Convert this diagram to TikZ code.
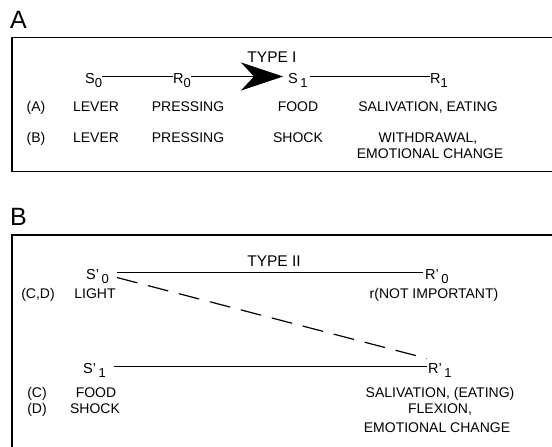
\documentclass[tikz,border=0pt]{standalone}
\usepackage{fontspec}
\setmainfont{Liberation Sans}
\usetikzlibrary{arrows.meta}
\newcommand{\sub}[1]{\raisebox{-4.5pt}{\fontsize{13}{13}\selectfont #1}}
\begin{document}
\begin{tikzpicture}[x=1pt,y=-1pt,
  txt/.style={font=\fontsize{14}{16}\selectfont, inner sep=0pt, anchor=base},
  ttl/.style={font=\fontsize{15.5}{18}\selectfont, inner sep=0pt, anchor=base},
  big/.style={font=\fontsize{25}{28}\selectfont, inner sep=0pt, anchor=base west},
  term/.style={font=\fontsize{14.5}{16}\selectfont, inner sep=0pt, anchor=base west, text height=13pt, text depth=0pt},
  frame/.style={draw=black, line width=1.6pt},
  conn/.style={draw=black, line width=1.2pt}]
\useasboundingbox (0,0) rectangle (552,447);
\begin{scope}
\clip (0,0) rectangle (552,447);
% Panel A
\node[big] (labA) at (10,28) {A};
\draw[frame] (12,37.5) rectangle (570,171.5);
\node[ttl] (typeI) at (272,62) {TYPE I};
\node[term] (S0) at (85,83) {S\sub{0}};
\node[term] (R0) at (173,83) {R\sub{0}};
\node[term] (S1) at (288,83) {S\,\sub{1}};
\node[term] (R1) at (430,83) {R\sub{1}};
\draw[conn] (S0.east) -- (R0.west);
\draw[conn, -{Stealth[length=42pt,width=28pt,inset=13pt]}, shorten >=5pt] (R0.east) -- (S1.west);
\draw[conn, shorten <=2pt] (S1.east) -- (R1.west);
\node[txt] (a0) at (36,111) {(A)};
\node[txt] (a1) at (96,111) {LEVER};
\node[txt] (a2) at (188,111) {PRESSING};
\node[txt] (a3) at (298,111) {FOOD};
\node[txt] (a4) at (428,111) {SALIVATION, EATING};
\node[txt] (b0) at (36,142) {(B)};
\node[txt] (b1) at (96,142) {LEVER};
\node[txt] (b2) at (188,142) {PRESSING};
\node[txt] (b3) at (298,142) {SHOCK};
\node[txt] (b4) at (428,142) {WITHDRAWAL,};
\node[txt] (b5) at (430,158) {EMOTIONAL CHANGE};
% Panel B
\node[big] (labB) at (10,225) {B};
\draw[frame] (12,235) rectangle (570,470);
\node[ttl] (typeII) at (274,266) {TYPE II};
\node[term] (Sp0) at (86,279) {S’\,\sub{0}};
\node[term] (Rp0) at (425,279) {R’\,\sub{0}};
\node[term] (Sp1) at (83,373) {S’\,\sub{1}};
\node[term] (Rp1) at (428,373) {R’\,\sub{1}};
\draw[conn, shorten <=8pt, shorten >=2pt] (Sp0.east) -- (Rp0.west);
\draw[conn, shorten <=8pt, shorten >=1pt] (Sp1.east) -- (Rp1.west);
\draw[conn, dash pattern=on 21pt off 11pt] ([xshift=8pt,yshift=-5pt]Sp0.east) -- ([xshift=-1pt,yshift=8pt]Rp1.west);
\node[txt] (c0) at (38,298) {(C,D)};
\node[txt] (c1) at (95,298) {LIGHT};
\node[txt] (c2) at (434,298) {r(NOT IMPORTANT)};
\node[txt] (d0) at (37,397) {(C)};
\node[txt] (d1) at (96,397) {FOOD};
\node[txt] (d2) at (440,397) {SALIVATION, (EATING)};
\node[txt] (e0) at (37,413) {(D)};
\node[txt] (e1) at (95,413) {SHOCK};
\node[txt] (e2) at (440,413) {FLEXION,};
\node[txt] (e3) at (437,432) {EMOTIONAL CHANGE};
\end{scope}
\end{tikzpicture}
\end{document}
